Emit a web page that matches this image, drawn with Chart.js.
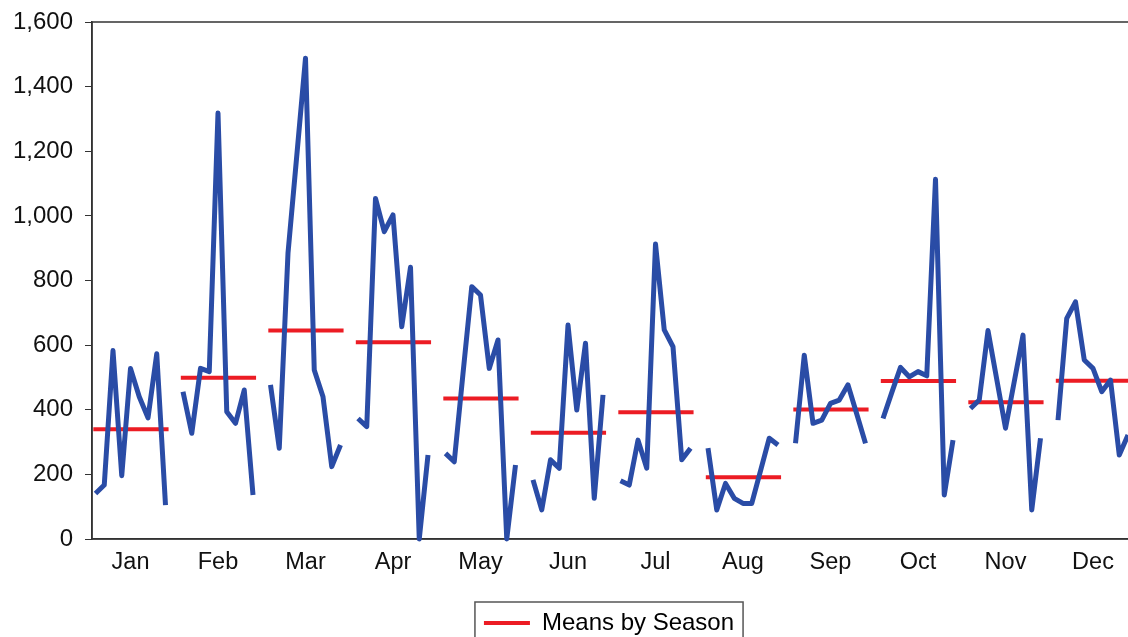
<!DOCTYPE html>
<html>
<head>
<meta charset="utf-8">
<script src="https://cdn.jsdelivr.net/npm/chart.js@4.4.1/dist/chart.umd.min.js"></script>
<style>
  html, body { margin: 0; padding: 0; background: #fff; }
  #wrap { width: 1128px; height: 637px; overflow: hidden; position: relative; }
  #myChart { position: absolute; left: 0; top: 0; }
</style>
</head>
<body>
<div id="wrap"><canvas id="myChart" width="1220" height="660"></canvas></div>
<script>
const months = ["Jan", "Feb", "Mar", "Apr", "May", "Jun", "Jul", "Aug", "Sep", "Oct", "Nov", "Dec"];

// one value per year, 9 years per month
const jan = [141, 167, 583, 196, 528, 440, 375, 573, 105];
const feb = [456, 327, 528, 518, 1318, 394, 358, 461, 136];
const mar = [477, 281, 885, 1185, 1488, 523, 440, 224, 291];
const apr = [373, 348, 1054, 951, 1003, 657, 841, 0, 260];
const may = [265, 239, 512, 781, 755, 528, 616, 0, 229];
const jun = [183, 90, 245, 219, 662, 399, 606, 126, 446];
const jul = [180, 167, 306, 219, 913, 647, 595, 245, 281];
const aug = [281, 90, 172, 126, 110, 110, 211, 312, 291];
const sep = [296, 569, 358, 368, 420, 430, 477, 387, 296];
const oct = [373, 453, 531, 502, 518, 505, 1113, 136, 306];
const nov = [404, 430, 645, 494, 343, 487, 631, 90, 312];
const dec = [368, 683, 734, 554, 528, 456, 492, 260, 322];

const seasonMeans = [340, 499, 645, 609, 435, 329, 392, 191, 401, 489, 423, 490];

const yMin = 0;
const yMax = 1600;
const yStep = 200;

const byMonth = [jan, feb, mar, apr, may, jun, jul, aug, sep, oct, nov, dec];

// each month gets 10 slots on the x scale: 9 years + a gap
let seriesPoints = [];
byMonth.forEach((vals, k) => {
  vals.forEach((v, j) => {
    seriesPoints.push({ x: k * 10 + j + 0.4, y: v });
  });
  seriesPoints.push({ x: k * 10 + 9.2, y: null });
});

let meanPoints = [];
seasonMeans.forEach((m, k) => {
  meanPoints.push({ x: k * 10 + 0.15, y: m });
  meanPoints.push({ x: k * 10 + 8.75, y: m });
  meanPoints.push({ x: k * 10 + 9.2, y: null });
});

Chart.defaults.font.family = "'Liberation Sans', Arial, sans-serif";
Chart.defaults.color = "#111";

const axisColor = "#333";

const framePlugin = {
  id: "frame",
  afterLayout(chart) {
    // legend sits a little left of the plot centre in the original
    chart.legend.left -= 8;
    chart.legend.right -= 8;
  },
  beforeDatasetsDraw(chart) {
    const { ctx, chartArea: a } = chart;
    ctx.save();
    ctx.strokeStyle = axisColor;
    ctx.lineWidth = 1.5;
    ctx.strokeRect(a.left, a.top, a.right - a.left, a.bottom - a.top);
    ctx.restore();
  },
  afterDraw(chart) {
    const hb = chart.legend.legendHitBoxes[0];
    if (!hb) return;
    const ctx = chart.ctx;
    ctx.save();
    ctx.strokeStyle = "#555";
    ctx.lineWidth = 1.5;
    ctx.strokeRect(hb.left - 9, hb.top - 9, hb.width + 18, hb.height + 40);
    ctx.restore();
  }
};

const myChart = document.getElementById("myChart");

let seasonChart = new Chart(myChart, {
  type: "line",
  data: {
    datasets: [
      {
        label: "Series",
        data: seriesPoints,
        borderColor: "#2a4ca6",
        backgroundColor: "#2a4ca6",
        borderWidth: 5,
        borderJoinStyle: "round",
        pointRadius: 0,
        tension: 0,
        spanGaps: false,
        clip: false
      },
      {
        label: "Means by Season",
        data: meanPoints,
        borderColor: "#ec1c24",
        backgroundColor: "#ec1c24",
        borderWidth: 4,
        pointRadius: 0,
        tension: 0,
        spanGaps: false,
        clip: false
      }
    ]
  },
  options: {
    responsive: false,
    animation: false,
    layout: {
      padding: { top: 22, right: 78, left: 0, bottom: 15 }
    },
    plugins: {
      tooltip: { enabled: false },
      legend: {
        position: "bottom",
        fullSize: false,
        labels: {
          boxWidth: 46,
          boxHeight: 4,
          padding: 10,
          font: { size: 24 },
          color: "#111",
          generateLabels: () => [{
            text: "Means by Season",
            fillStyle: "#ec1c24",
            strokeStyle: "#ec1c24",
            lineWidth: 0,
            hidden: false,
            datasetIndex: 1
          }]
        }
      }
    },
    scales: {
      x: {
        type: "linear",
        min: 0,
        max: 120,
        grid: { display: false, drawTicks: false },
        border: { color: axisColor, width: 1.5 },
        ticks: {
          autoSkip: false,
          maxRotation: 0,
          padding: 9,
          font: { size: 23.5 },
          color: "#111",
          callback: (value, index) => months[index]
        },
        afterBuildTicks: (scale) => {
          scale.ticks = months.map((m, i) => ({ value: i * 10 + 4.4 }));
        },
        afterFit: (scale) => {
          scale.height = 62;
        }
      },
      y: {
        min: yMin,
        max: yMax,
        grid: { drawOnChartArea: false, drawTicks: true, tickLength: 7, color: axisColor },
        border: { color: axisColor, width: 1.5 },
        ticks: {
          stepSize: yStep,
          padding: 12,
          font: { size: 24 },
          color: "#111",
          callback: (value) => value.toLocaleString("en-US")
        },
        afterFit: (scale) => {
          scale.width = 92;
          scale.paddingTop = 0;
          scale.paddingBottom = 0;
        }
      }
    }
  },
  plugins: [framePlugin]
});
</script>
</body>
</html>
